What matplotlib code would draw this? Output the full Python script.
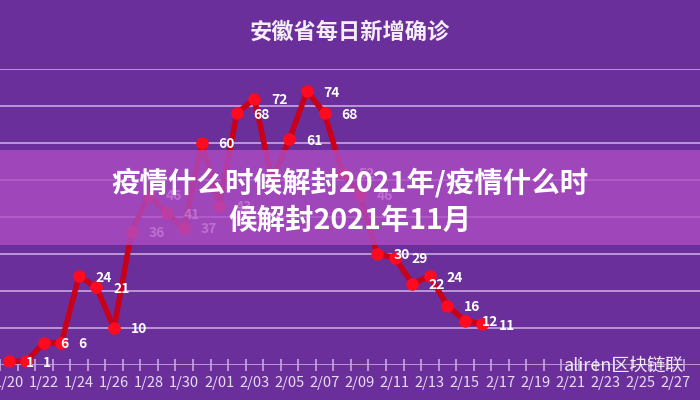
import matplotlib
matplotlib.use("Agg")
import matplotlib.pyplot as plt
from matplotlib.patches import Rectangle

plt.rcParams['font.family'] = ['Noto Sans CJK SC', 'DejaVu Sans']

dates = ["1/20","1/21","1/22","1/23","1/24","1/25","1/26","1/27","1/28","1/29",
         "1/30","1/31","2/01","2/02","2/03","2/04","2/05","2/06","2/07","2/08",
         "2/09","2/10","2/11","2/12","2/13","2/14","2/15","2/16"]
values = [1, 1, 6, 6, 24, 21, 10, 36, 46, 41, 37, 60, 43, 68, 72, 50, 61, 74, 68, 52,
          46, 30, 29, 22, 24, 16, 12, 11]
all_dates = ["1/%d" % d for d in range(20, 32)] + ["2/%02d" % d for d in range(1, 28)]

bg = "#6b2f9b"
fig = plt.figure(figsize=(7, 4), dpi=100, facecolor=bg)
ax = fig.add_axes([0, 0.0875, 1, 0.74])
ax.set_facecolor(bg)
xs = list(range(len(values)))
ax.plot(xs, values, color="#c8001a", lw=4, zorder=3, clip_on=False)
ax.plot(xs, values, 'o', color="#ff0a1e", ms=8, zorder=4, clip_on=False)
for x, v in zip(xs, values):
    ax.annotate(str(v), (x, v), xytext=(12, -1), textcoords="offset points",
                color="white", fontsize=10, fontweight="bold", va="center", zorder=5)

ax.set_xlim(1.25, 39.4)
ax.set_ylim(0, 80)
ax.set_yticks(range(0, 81, 10))
ax.yaxis.grid(True, color="#c8a8e0", lw=1.2)
ax.tick_params(axis='y', length=0, labelleft=False)
ax.set_xticks(range(0, len(all_dates), 2))
ax.set_xticklabels(all_dates[::2], color="#e8dcf4", fontsize=10.5)
ax.set_xticks([i + 0.5 for i in range(-1, len(all_dates))], minor=True)
ax.tick_params(axis='x', which='major', length=0, pad=8)
ax.tick_params(axis='x', which='minor', length=8, direction='inout', color="#c8a8e0", width=1.2)
for s in ax.spines.values():
    s.set_visible(False)
ax.set_axisbelow(True)

fig.text(0.5, 0.92, "安徽省每日新增确诊", color="#f4eef8", fontsize=16, fontweight="bold",
         ha="center", va="center")

fig.patches.append(Rectangle((0, 1 - 245/400), 1, 95/400, transform=fig.transFigure,
                             facecolor="#ad4cc4", alpha=0.8, zorder=10))
fig.text(0.5, 1 - 183/400, "疫情什么时候解封2021年/疫情什么时", color="white", fontsize=20.5,
         fontweight="bold", ha="center", va="center", zorder=11)
fig.text(0.5, 1 - 221/400, "候解封2021年11月", color="white", fontsize=20.5,
         fontweight="bold", ha="center", va="center", zorder=11)
fig.text(0.805, 1 - 366/400, "aliren区块链联", color="#f0ecf6", fontsize=13,
         ha="left", va="center", zorder=11)

fig.savefig("out.png", dpi=100, facecolor=bg)
